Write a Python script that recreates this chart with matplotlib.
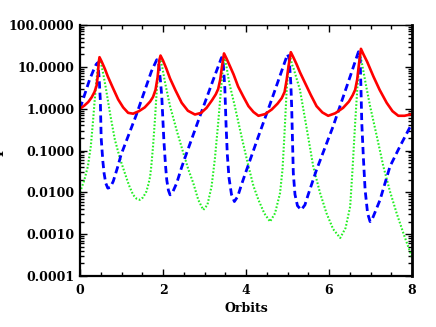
import numpy as np
import matplotlib
matplotlib.use('Agg')
import matplotlib.pyplot as plt
from matplotlib.ticker import LogLocator, MultipleLocator, FormatStrFormatter, NullFormatter

# values (x in orbits, y as log10 of amplitude)
red_x = [0.00, 0.10, 0.20, 0.28, 0.35, 0.40, 0.43, 0.45, 0.47, 0.52, 0.60, 0.67, 0.80, 0.92, 1.04,
         1.16, 1.28, 1.42, 1.56, 1.69, 1.76, 1.82, 1.87, 1.91, 1.94,
         2.00, 2.08, 2.17, 2.30, 2.45, 2.60, 2.77, 2.92, 3.05, 3.18, 3.27, 3.33, 3.38, 3.42, 3.47,
         3.53, 3.62, 3.70, 3.81, 3.94, 4.06, 4.18, 4.30, 4.46, 4.62, 4.76, 4.86, 4.93, 4.98, 5.03, 5.08,
         5.14, 5.22, 5.30, 5.42, 5.56, 5.70, 5.84, 5.98, 6.15, 6.34, 6.48, 6.57, 6.63, 6.68, 6.72, 6.77,
         6.83, 6.92, 7.07, 7.22, 7.39, 7.53, 7.67, 7.82, 8.00]
red_log = [0.00, 0.07, 0.16, 0.27, 0.40, 0.55, 0.80, 1.10, 1.23, 1.13, 0.95, 0.77, 0.48, 0.22, 0.03,
           -0.10, -0.12, -0.06, 0.03, 0.17, 0.28, 0.45, 0.75, 1.15, 1.27,
           1.15, 0.96, 0.72, 0.44, 0.14, -0.05, -0.14, -0.10, 0.02, 0.20, 0.34, 0.47, 0.70, 1.00, 1.32,
           1.20, 1.00, 0.82, 0.53, 0.28, 0.06, -0.08, -0.17, -0.13, -0.02, 0.12, 0.25, 0.40, 0.69, 1.05, 1.35,
           1.23, 1.06, 0.87, 0.62, 0.33, 0.06, -0.09, -0.17, -0.11, 0.02, 0.17, 0.32, 0.45, 0.70, 1.05, 1.43,
           1.30, 1.12, 0.77, 0.45, 0.14, -0.06, -0.17, -0.17, -0.13]

blue_x = [0.00, 0.10, 0.23, 0.33, 0.39, 0.43, 0.46, 0.49, 0.51, 0.55, 0.58, 0.62, 0.67, 0.73, 0.80,
          0.90, 0.99, 1.36, 1.72, 1.85, 1.90, 1.94, 1.97, 2.02, 2.06, 2.09, 2.13, 2.17, 2.24, 2.33,
          2.45, 2.57, 2.89, 3.21, 3.41, 3.45, 3.49, 3.52, 3.55, 3.59, 3.65, 3.72, 3.80, 3.88, 3.98,
          4.30, 4.62, 5.00, 5.04, 5.08, 5.10, 5.14, 5.18, 5.24, 5.33, 5.42, 5.50, 5.70, 6.10, 6.51,
          6.71, 6.75, 6.77, 6.79, 6.83, 6.87, 6.93, 6.99, 7.05, 7.12, 7.23, 7.47, 7.71, 8.00]
blue_log = [0.00, 0.30, 0.69, 0.93, 1.06, 1.10, 0.75, 0.20, -0.70, -1.25, -1.54, -1.78, -1.90, -1.88, -1.74,
            -1.42, -1.10, -0.14, 0.89, 1.17, 1.05, 0.65, 0.30, -0.74, -1.35, -1.70, -1.95, -2.06, -1.98, -1.78,
            -1.40, -1.06, -0.18, 0.69, 1.22, 1.10, 0.50, -0.40, -1.10, -1.65, -2.05, -2.22, -2.10, -1.85, -1.56,
            -0.66, 0.22, 1.30, 1.20, 0.60, 0.06, -1.54, -2.05, -2.32, -2.42, -2.30, -2.05, -1.46, -0.42, 0.77,
            1.36, 1.20, 0.50, -0.34, -1.20, -1.94, -2.50, -2.70, -2.62, -2.45, -2.18, -1.38, -0.90, -0.35]

green_x = [0.00, 0.10, 0.19, 0.26, 0.31, 0.35, 0.39, 0.43, 0.47, 0.52, 0.57, 0.63, 0.73, 0.84, 0.96,
           1.08, 1.18, 1.28, 1.36, 1.44, 1.52, 1.60, 1.65, 1.69, 1.72, 1.76, 1.81, 1.85, 1.89, 1.93,
           1.98, 2.05, 2.17, 2.33, 2.49, 2.61, 2.73, 2.85, 2.97, 3.07, 3.17, 3.25, 3.33, 3.40, 3.44, 3.48,
           3.53, 3.60, 3.73, 3.90, 4.06, 4.18, 4.30, 4.44, 4.58, 4.70, 4.82, 4.88, 4.92, 4.98, 5.02, 5.06,
           5.11, 5.15, 5.30, 5.45, 5.62, 5.78, 5.94, 6.10, 6.27, 6.40, 6.51, 6.57, 6.63, 6.69, 6.75,
           6.80, 6.88, 6.99, 7.15, 7.31, 7.47, 7.63, 7.80, 8.00]
green_log = [-2.00, -1.72, -1.38, -0.90, -0.34, 0.15, 0.61, 0.98, 1.19, 1.02, 0.78, 0.45, -0.15, -0.74, -1.18,
             -1.54, -1.83, -2.06, -2.15, -2.18, -2.12, -1.98, -1.80, -1.62, -1.35, -0.90, -0.20, 0.45, 0.90, 1.21,
             1.00, 0.62, 0.06, -0.52, -1.06, -1.45, -1.78, -2.18, -2.42, -2.30, -1.86, -1.20, -0.34, 0.50, 0.95, 1.25,
             1.00, 0.60, 0.06, -0.70, -1.38, -1.85, -2.18, -2.50, -2.70, -2.50, -2.02, -1.45, -0.74, 0.45, 0.95, 1.27,
             1.05, 0.95, 0.45, -0.40, -1.38, -2.00, -2.50, -2.88, -3.09, -2.85, -2.34, -1.40, -0.34, 0.60, 1.29,
             1.05, 0.62, 0.06, -0.65, -1.38, -1.98, -2.50, -3.00, -3.55]

plt.rcParams['font.family'] = 'DejaVu Serif'
plt.rcParams['font.weight'] = 'bold'
plt.rcParams['font.size'] = 9

fig = plt.figure(figsize=(4.36, 3.27), dpi=100)
ax = fig.add_axes([80/436, 1 - 276/327, 332/436, 251/327])

ax.plot(green_x, 10**np.array(green_log), color='#22ee22', lw=1.5, dashes=(0.8, 0.9))
ax.plot(blue_x, 10**np.array(blue_log), color='#0000ff', lw=2.0, dashes=(2.6, 1.5))
ax.plot(red_x, 10**np.array(red_log), color='#ff0000', lw=1.9)

ax.set_yscale('log')
ax.set_xlim(0, 8)
ax.set_ylim(1e-4, 100)
ax.xaxis.set_major_locator(MultipleLocator(2))
ax.xaxis.set_minor_locator(MultipleLocator(0.5))
ax.yaxis.set_major_locator(LogLocator(base=10, numticks=10))
ax.yaxis.set_minor_locator(LogLocator(base=10, subs=np.arange(2, 10), numticks=20))
ax.yaxis.set_major_formatter(FormatStrFormatter('%.4f'))
ax.yaxis.set_minor_formatter(NullFormatter())
ax.tick_params(which='both', direction='in', top=True, right=True, width=1)
ax.tick_params(which='major', length=5, pad=4)
ax.tick_params(axis='x', which='major', pad=6)
ax.tick_params(which='minor', length=3)
for lab in ax.get_xticklabels() + ax.get_yticklabels():
    lab.set_fontweight('bold')
ax.spines['top'].set_linewidth(1.0)
ax.spines['left'].set_linewidth(1.6)
ax.spines['bottom'].set_linewidth(1.6)
ax.spines['right'].set_linewidth(2.0)

ax.set_xlabel('Orbits', fontweight='bold', labelpad=3)
fig.text(4/436, 1 - 140/327, 'Amplitude', rotation=90, ha='right', va='center',
         fontsize=11, fontweight='bold')

fig.savefig('out.png', dpi=100)
